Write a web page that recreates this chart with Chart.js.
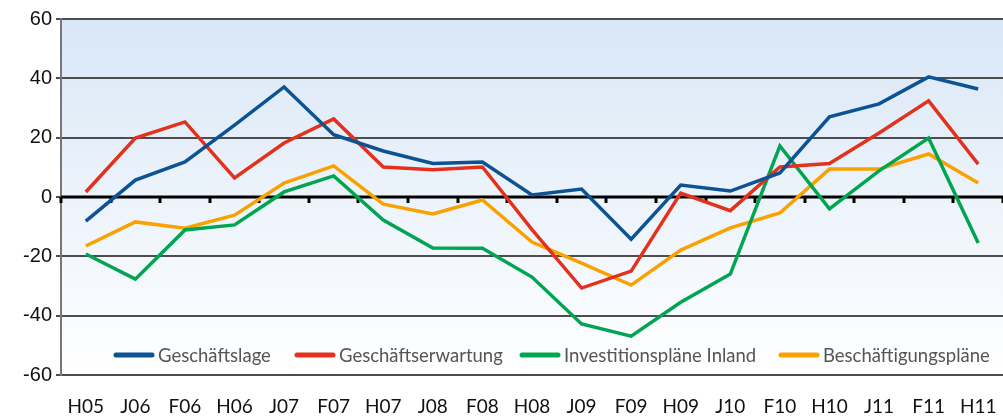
<!DOCTYPE html>
<html><head><meta charset="utf-8">
<script src="https://cdn.jsdelivr.net/npm/chart.js@4/dist/chart.umd.min.js"></script>
<style>html,body{margin:0;padding:0;background:#fff}#wrap{width:1003px;height:419px}</style>
</head><body><div id="wrap"><canvas id="c" width="1003" height="419"></canvas></div>
<script>
const categories = ["H05","J06","F06","H06","J07","F07","H07","J08","F08","H08","J09","F09","H09","J10","F10","H10","J11","F11","H11"];
const geschaeftslage = [-8.1,5.7,11.8,24.2,37.1,21,15.5,11.3,11.8,0.7,2.7,-14.2,4.0,2.0,8.1,27,31.4,40.5,36.4];
const geschaeftserwartung = [1.7,19.9,25.3,6.4,18.2,26.3,10.1,9.2,10.1,-11,-30.7,-25,1.3,-4.6,10.1,11.3,21.6,32.4,11.1];
const investitionsplaene = [-19.2,-27.7,-11.1,-9.4,1.7,7.1,-7.8,-17.2,-17.3,-27,-42.8,-46.9,-35.5,-26,17.2,-4,8.8,19.9,-15.5];
const beschaeftigungsplaene = [-16.5,-8.4,-10.5,-6.1,4.7,10.5,-2.4,-5.7,-1.0,-15.2,-22.3,-29.7,-17.9,-10.4,-5.4,9.4,9.4,14.5,4.7];
const seriesNames = ["Geschäftslage","Geschäftserwartung","Investitionspläne Inland","Beschäftigungspläne"];
const yTicks = [-60,-40,-20,0,20,40,60];

const colors = ["#0b5394","#e2321e","#00a551","#f9a100"];
const allData = [geschaeftslage, geschaeftserwartung, investitionsplaene, beschaeftigungsplaene];

const bgPlugin = {
  id:'bg',
  beforeDraw(chart){
    const {ctx, chartArea:a} = chart;
    const g = ctx.createLinearGradient(0,a.top,0,a.bottom);
    g.addColorStop(0,'#d9e7f6');
    g.addColorStop(1,'#ffffff');
    ctx.save(); ctx.fillStyle=g; ctx.fillRect(a.left,a.top,a.right-a.left,a.bottom-a.top); ctx.restore();
  },
  beforeDatasetsDraw(chart){
    const {ctx, chartArea:a, scales:{x,y}} = chart;
    ctx.save();
    const y0 = Math.round(y.getPixelForValue(0));
    ctx.strokeStyle='#000'; ctx.lineWidth=3;
    ctx.beginPath(); ctx.moveTo(a.left,y0); ctx.lineTo(a.right,y0); ctx.stroke();
    const n = categories.length;
    const step = x.getPixelForValue(1)-x.getPixelForValue(0);
    for(let i=0;i<=n;i++){
      let px = x.getPixelForValue(0) - step/2 + i*step;
      px = Math.round(px);
      ctx.beginPath(); ctx.moveTo(px,y0); ctx.lineTo(px,y0+6); ctx.stroke();
    }
    ctx.restore();
  },
  afterDatasetsDraw(chart){
    const {ctx} = chart;
    const xs = [116,297,522,781];
    const yl = 355;
    ctx.save();
    ctx.font = '18.5px Lato, "Open Sans", sans-serif';
    ctx.textBaseline='middle';
    for(let i=0;i<4;i++){
      ctx.strokeStyle=colors[i]; ctx.lineWidth=5; ctx.lineCap='round';
      ctx.beginPath(); ctx.moveTo(xs[i],yl); ctx.lineTo(xs[i]+36,yl); ctx.stroke();
      ctx.fillStyle='#555';
      ctx.fillText(seriesNames[i], xs[i]+42, yl+1);
    }
    ctx.restore();
  }
};

new Chart(document.getElementById('c'),{
  type:'line',
  data:{
    labels:categories,
    datasets: seriesNames.map((n,i)=>({
      label:n, data:allData[i], borderColor:colors[i], backgroundColor:colors[i],
      borderWidth:3.5, pointRadius:0, tension:0, fill:false, borderJoinStyle:'miter'
    }))
  },
  options:{
    responsive:false, animation:false,
    layout:{padding:{top:19,right:0,left:0,bottom:0}},
    plugins:{legend:{display:false}, tooltip:{enabled:false}},
    scales:{
      x:{
        offset:true,
        grid:{display:false, drawTicks:false},
        border:{display:false},
        ticks:{color:'#111', font:{size:19, family:'Lato, "Open Sans", sans-serif'}, padding:20, maxRotation:0, autoSkip:false},
        afterFit(s){ s.height = 44; s.paddingLeft = 0; s.paddingRight = 0; }
      },
      y:{
        min:-60, max:60,
        afterBuildTicks(s){ s.ticks = yTicks.map(v=>({value:v})); },
        grid:{color:'#4d4d4d', lineWidth:2, drawTicks:true, tickLength:5, tickColor:'#4d4d4d'},
        border:{display:true, color:'#777', width:2},
        ticks:{color:'#111', font:{size:20, family:'"Liberation Sans", Arial, sans-serif'}, padding:4},
        afterFit(s){ s.width = 61; s.paddingTop = 0; s.paddingBottom = 0; }
      }
    }
  },
  plugins:[bgPlugin]
});
</script></body></html>
